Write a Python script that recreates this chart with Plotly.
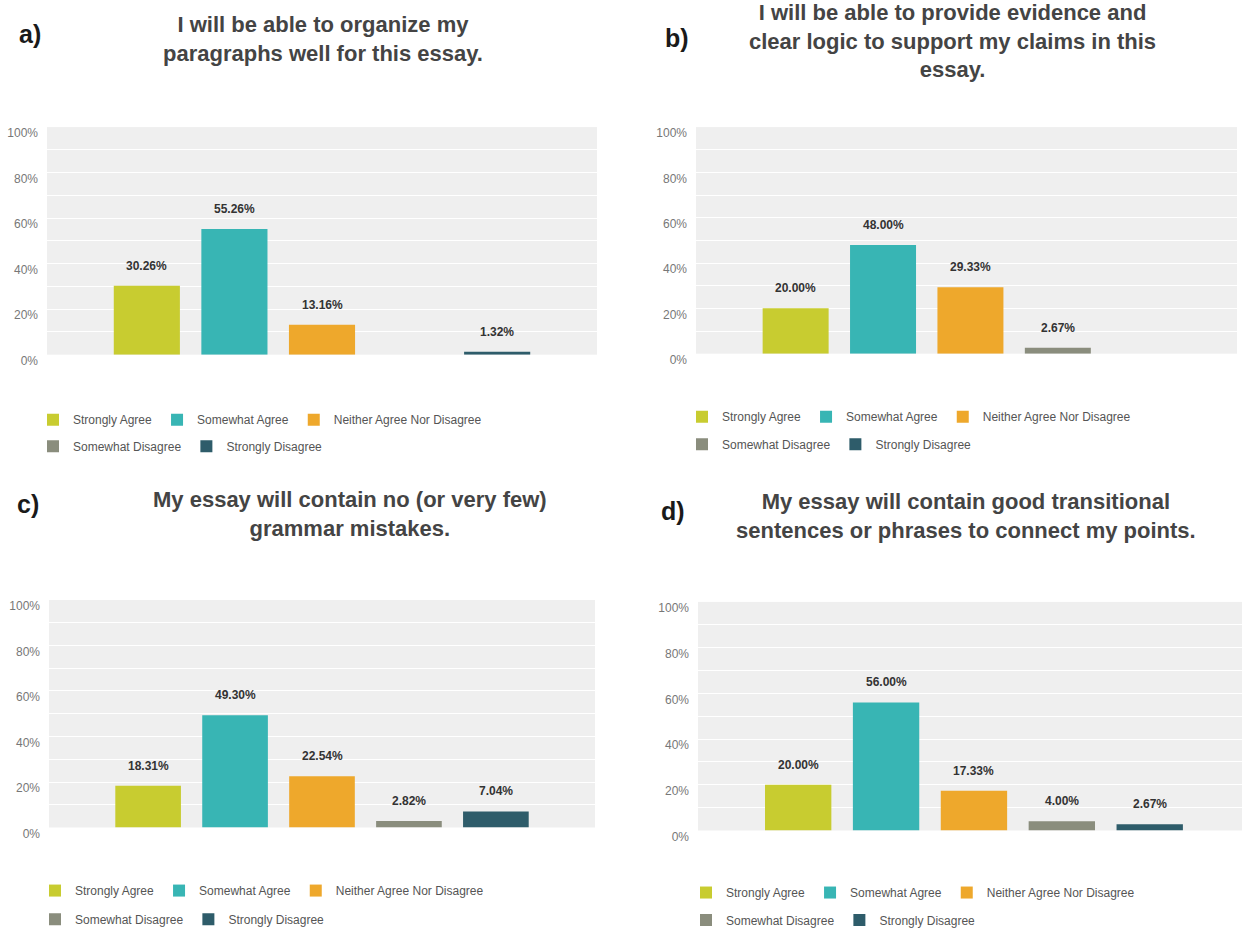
import plotly.graph_objects as go

# Response categories and their colours
categories = ["Strongly Agree", "Somewhat Agree", "Neither Agree Nor Disagree",
              "Somewhat Disagree", "Strongly Disagree"]
colors = ["#c8cc30", "#38b5b4", "#eea82c", "#8a8d7d", "#2e5c6a"]

# Percentage of respondents per category for each statement
values_a = [30.26, 55.26, 13.16, 0.0, 1.32]
values_b = [20.00, 48.00, 29.33, 2.67, 0.0]
values_c = [18.31, 49.30, 22.54, 2.82, 7.04]
values_d = [20.00, 56.00, 17.33, 4.00, 2.67]

titles = [
    "I will be able to organize my<br>paragraphs well for this essay.",
    "I will be able to provide evidence and<br>clear logic to support my claims in this<br>essay.",
    "My essay will contain no (or very few)<br>grammar mistakes.",
    "My essay will contain good transitional<br>sentences or phrases to connect my points.",
]
panel_tags = ["a)", "b)", "c)", "d)"]

y_tickvals = [0, 20, 40, 60, 80, 100]
y_ticktext = ["0%", "20%", "40%", "60%", "80%", "100%"]

W, H = 1248, 941
FONT = "Liberation Sans, Arial, sans-serif"


def px_x(p):
    return p / W


def px_y(p):
    return 1 - p / H


# Panel geometry in pixels: plot area (left, right, top, bottom),
# title centre, tag centre, legend rows
panels = [
    dict(vals=values_a, area=(47, 597, 128, 359), xr=(-1.14, 5.14),
         title=(323, 39), tag=(30, 33), leg_x=33, leg_y=(425, 452)),
    dict(vals=values_b, area=(696, 1237, 128, 358), xr=(-1.14, 5.05),
         title=(953, 41), tag=(677, 38), leg_x=682, leg_y=(422, 450)),
    dict(vals=values_c, area=(49, 595, 608, 839), xr=(-1.14, 5.14),
         title=(350, 521), tag=(28, 511), leg_x=35, leg_y=(903, 932)),
    dict(vals=values_d, area=(698, 1242, 610, 842), xr=(-1.14, 5.05),
         title=(966, 523), tag=(673, 518), leg_x=686, leg_y=(905, 933)),
]

fig = go.Figure()
annotations = []
layout = {}

for p_i, pnl in enumerate(panels):
    n = "" if p_i == 0 else str(p_i + 1)
    xa, ya = "x" + n, "y" + n
    leg_row1 = "legend" if p_i == 0 else f"legend{2 * p_i + 1}"
    leg_row2 = f"legend{2 * p_i + 2}"

    for c_i, (cat, col, val) in enumerate(zip(categories, colors, pnl["vals"])):
        fig.add_trace(go.Bar(
            x=[c_i], y=[val], width=0.755, name=cat,
            marker=dict(color=col, line=dict(width=0)),
            xaxis=xa, yaxis=ya,
            legend=leg_row1 if c_i < 3 else leg_row2,
            showlegend=True, hoverinfo="skip",
        ))
        if val > 0:
            annotations.append(dict(
                x=c_i, y=val, xref=xa, yref=ya, text=f"{val:.2f}%",
                showarrow=False, yanchor="middle", yshift=20,
                font=dict(family=FONT, size=12, color="#333333", weight="bold"),
            ))

    l, r, t, b = pnl["area"]
    layout["xaxis" + n] = dict(
        domain=[px_x(l), px_x(r)], range=list(pnl["xr"]), anchor=ya,
        showticklabels=False, showgrid=False, zeroline=False, showline=False,
        fixedrange=True,
    )
    layout["yaxis" + n] = dict(
        domain=[px_y(b), px_y(t)], range=[0, 100], anchor=xa,
        tickvals=y_tickvals, ticktext=y_ticktext, ticks="",
        ticklabelstandoff=8, ticklabelshift=6,
        tickfont=dict(family=FONT, size=12, color="#777777"),
        showgrid=True, gridcolor="#ffffff", gridwidth=1,
        minor=dict(dtick=10, showgrid=True, gridcolor="#ffffff", gridwidth=1),
        zeroline=False, showline=False, fixedrange=True,
    )

    for key, ry in ((leg_row1, pnl["leg_y"][0]), (leg_row2, pnl["leg_y"][1])):
        layout[key] = dict(
            orientation="h", x=px_x(pnl["leg_x"]), xanchor="left",
            y=px_y(ry), yanchor="middle", bgcolor="rgba(0,0,0,0)",
            font=dict(family=FONT, size=12, color="#555555"),
            itemclick=False, itemdoubleclick=False,
        )

    tx, ty = pnl["title"]
    annotations.append(dict(
        x=px_x(tx), y=px_y(ty), xref="paper", yref="paper",
        text=titles[p_i], showarrow=False, xanchor="center", yanchor="middle",
        align="center",
        font=dict(family=FONT, size=22, color="#444444", weight="bold"),
    ))
    gx, gy = pnl["tag"]
    annotations.append(dict(
        x=px_x(gx), y=px_y(gy), xref="paper", yref="paper",
        text=panel_tags[p_i], showarrow=False, xanchor="center", yanchor="middle",
        font=dict(family=FONT, size=25, color="#1a1a1a", weight="bold"),
    ))

fig.update_layout(
    width=W, height=H, margin=dict(l=0, r=0, t=0, b=0),
    paper_bgcolor="#ffffff", plot_bgcolor="#efefef",
    barmode="overlay", annotations=annotations, **layout,
)

fig.write_html("out.html", config={"displayModeBar": False})
